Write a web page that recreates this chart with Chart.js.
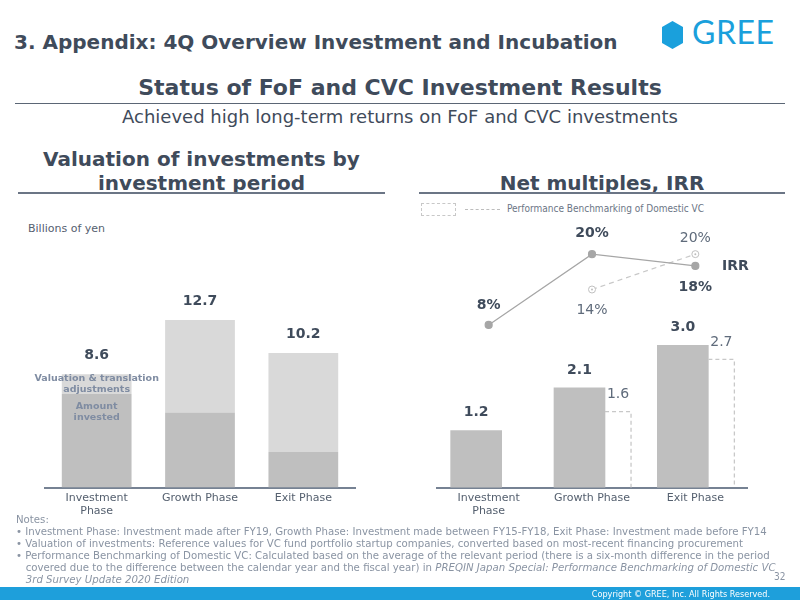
<!DOCTYPE html>
<html><head><meta charset="utf-8">
<script src="https://cdn.jsdelivr.net/npm/chart.js@4.4.0/dist/chart.umd.min.js"></script>
<style>
body{margin:0;width:800px;height:600px;position:relative;overflow:hidden;background:#fff;font-family:"DejaVu Sans",sans-serif;color:#3f4b5b}
.a{position:absolute;white-space:nowrap}
#hdr{left:14px;top:30px;font:bold 20px/24px "DejaVu Sans";color:#3f4b5b}
#title{left:0;width:800px;text-align:center;top:76px;font:bold 22px/24px "DejaVu Sans";color:#3f4b5b}
#rule{left:15px;top:103px;width:770px;height:1px;background:#5b6675}
#sub{left:0;width:800px;text-align:center;top:106px;font:18px/22px "DejaVu Sans";color:#3f4b5b}
#lt{left:18px;width:367px;text-align:center;top:147px;font:bold 20px/24px "DejaVu Sans";color:#3f4b5b}
#rt{left:419px;width:366px;text-align:center;top:171px;font:bold 20px/24px "DejaVu Sans";color:#3f4b5b}
.ul{height:2px;background:#6b7585;top:192px}
#units{left:28px;top:222px;font:11px/14px "DejaVu Sans";color:#55606f}
#lgbox{left:421px;top:203px;width:33px;height:11px;border:1px dashed #c8c8c8}
#lgline{left:465px;top:209px;width:35px;height:0;border-top:1px dashed #bdbdbd}
#lgtxt{left:507px;top:203px;font:10px/12px "DejaVu Sans Condensed";color:#6b7585}
#notes{left:16px;top:514px;font:10.2px/12px "DejaVu Sans";color:#8a94a3}
#notes div{white-space:nowrap}
#pg{left:774px;top:571px;font:10px/12px "DejaVu Sans Condensed";color:#8a94a3}
#foot{left:0;top:587px;width:800px;height:13px;background:#1e9fdb}
#copy{right:30px;top:588px;font:9px/12px "DejaVu Sans Condensed";color:#fff}
#logo{left:660px;top:18px}
#gree{left:692px;top:14px;font:32px/36px Lato,"Open Sans",sans-serif;color:#1aa0dc;letter-spacing:0.5px}
</style></head><body>
<div class="a" id="hdr">3. Appendix: 4Q Overview Investment and Incubation</div>
<svg class="a" id="logo" width="30" height="34"><polygon points="12.5,3 23,9 23,25 12.5,31 2,25 2,9" fill="#1aa0dc"/></svg>
<div class="a" id="gree">GREE</div>
<div class="a" id="title">Status of FoF and CVC Investment Results</div>
<div class="a" id="rule"></div>
<div class="a" id="sub">Achieved high long-term returns on FoF and CVC investments</div>
<div class="a" id="lt">Valuation of investments by<br>investment period</div>
<div class="a" id="rt">Net multiples, IRR</div>
<div class="a ul" style="left:18px;width:367px"></div>
<div class="a ul" style="left:419px;width:366px"></div>
<div class="a" id="units">Billions of yen</div>
<div class="a" id="lgbox"></div>
<div class="a" id="lgline"></div>
<div class="a" id="lgtxt">Performance Benchmarking of Domestic VC</div>
<canvas class="a" id="c1" width="400" height="322" style="left:0;top:200px"></canvas>
<canvas class="a" id="c2" width="380" height="322" style="left:420px;top:200px"></canvas>
<div class="a" id="notes">
<div>Notes:</div>
<div>• Investment Phase: Investment made after FY19, Growth Phase: Investment made between FY15-FY18, Exit Phase: Investment made before FY14</div>
<div>• Valuation of investments: Reference values for VC fund portfolio startup companies, converted based on most-recent financing procurement</div>
<div>• Performance Benchmarking of Domestic VC: Calculated based on the average of the relevant period (there is a six-month difference in the period</div>
<div>&nbsp;&nbsp;&nbsp;covered due to the difference between the calendar year and the fiscal year) in <i>PREQIN Japan Special: Performance Benchmarking of Domestic VC</i></div>
<div>&nbsp;&nbsp;&nbsp;<i>3rd Survey Update 2020 Edition</i></div>
</div>
<div class="a" id="pg">32</div>
<div class="a" id="foot"></div>
<div class="a" id="copy">Copyright © GREE, Inc. All Rights Reserved.</div>
<script>
// ---- data ----
const categories = [['Investment', 'Phase'], 'Growth Phase', 'Exit Phase'];
const amountInvested = [7.1, 5.7, 2.7];
const valuationAdjustments = [1.5, 7.0, 7.5];
const valuationTotals = [8.6, 12.7, 10.2];
const netMultiples = [1.2, 2.1, 3.0];
const benchmarkMultiples = [null, 1.6, 2.7];
const irr = [8, 20, 18];
const benchmarkIrr = [null, 14, 20];

Chart.defaults.font.family = '"DejaVu Sans"';
Chart.defaults.animation = false;
const DARK = '#3f4b5b', GREY_TXT = '#5f6b7b';
const tickFont = {size: 11};
const axisBorder = {display: true, color: '#768293', width: 2};

// ---- left chart ----
const leftLabels = {
  id: 'leftLabels',
  afterDatasetsDraw(chart) {
    const ctx = chart.ctx;
    const top = chart.getDatasetMeta(1).data, bot = chart.getDatasetMeta(0).data;
    ctx.save();
    ctx.textAlign = 'center'; ctx.textBaseline = 'middle';
    ctx.font = 'bold 14px "DejaVu Sans"'; ctx.fillStyle = DARK;
    top.forEach((el, i) => ctx.fillText(valuationTotals[i].toFixed(1), el.x, el.y - 19));
    ctx.font = 'bold 9.5px "DejaVu Sans"'; ctx.fillStyle = '#7f8ca2';
    const t = top[0], mid = (t.y + t.base) / 2;
    ctx.fillText('Valuation & translation', t.x, mid - 6);
    ctx.fillText('adjustments', t.x, mid + 5);
    const b = bot[0];
    ctx.fillText('Amount', b.x, b.y + 13);
    ctx.fillText('invested', b.x, b.y + 24);
    ctx.restore();
  }
};
new Chart(document.getElementById('c1'), {
  type: 'bar',
  data: {
    labels: categories,
    datasets: [
      {label: 'Amount invested', data: amountInvested, backgroundColor: '#bfbfbf'},
      {label: 'Valuation & translation adjustments', data: valuationAdjustments, backgroundColor: '#d9d9d9'}
    ]
  },
  options: {
    responsive: false, devicePixelRatio: 1,
    layout: {padding: {left: 45, right: 45, top: 0, bottom: 0}},
    categoryPercentage: 1, barPercentage: 0.675,
    plugins: {legend: {display: false}, tooltip: {enabled: false}},
    scales: {
      x: {stacked: true, grid: {display: false, drawTicks: false}, border: axisBorder,
          ticks: {font: tickFont, color: '#55606f', padding: 4, maxRotation: 0, autoSkip: false}},
      y: {stacked: true, display: false, min: 0, max: 21.8}
    }
  },
  plugins: [leftLabels]
});

// ---- right chart ----
const rightLabels = {
  id: 'rightLabels',
  afterDatasetsDraw(chart) {
    const ctx = chart.ctx;
    const act = chart.getDatasetMeta(0).data, ben = chart.getDatasetMeta(1).data;
    const lineA = chart.getDatasetMeta(2).data, lineB = chart.getDatasetMeta(3).data;
    ctx.save();
    // dashed benchmark bars (top + right edges)
    ctx.strokeStyle = '#c8c8c8'; ctx.lineWidth = 1.3; ctx.setLineDash([4, 3]);
    ben.forEach((el, i) => {
      if (benchmarkMultiples[i] == null) return;
      const l = el.x - el.width / 2, r = el.x + el.width / 2;
      ctx.beginPath(); ctx.moveTo(l, el.y); ctx.lineTo(r, el.y); ctx.lineTo(r, el.base); ctx.stroke();
    });
    ctx.setLineDash([]);
    ctx.textAlign = 'center'; ctx.textBaseline = 'middle';
    ctx.font = 'bold 14px "DejaVu Sans"'; ctx.fillStyle = DARK;
    act.forEach((el, i) => ctx.fillText(netMultiples[i].toFixed(1), el.x, el.y - 18));
    ctx.font = '14px "DejaVu Sans"'; ctx.fillStyle = GREY_TXT;
    ben.forEach((el, i) => { if (benchmarkMultiples[i] != null) ctx.fillText(benchmarkMultiples[i].toFixed(1), el.x, el.y - 17); });
    // IRR labels
    const irrPos = [-20, -21, 21];
    ctx.font = 'bold 14px "DejaVu Sans"'; ctx.fillStyle = DARK;
    lineA.forEach((p, i) => ctx.fillText(irr[i] + '%', p.x, p.y + irrPos[i]));
    const last = lineA[lineA.length - 1];
    ctx.fillText('IRR', last.x + 40, last.y);
    const benPos = [0, 21, -16];
    ctx.font = '14px "DejaVu Sans"'; ctx.fillStyle = GREY_TXT;
    lineB.forEach((p, i) => { if (benchmarkIrr[i] != null) ctx.fillText(benchmarkIrr[i] + '%', p.x, p.y + benPos[i]); });
    ctx.fillStyle = '#bdbdbd';
    lineB.forEach((p, i) => { if (benchmarkIrr[i] != null) { ctx.beginPath(); ctx.arc(p.x, p.y, 1, 0, Math.PI * 2); ctx.fill(); } });
    ctx.restore();
  }
};
new Chart(document.getElementById('c2'), {
  type: 'bar',
  data: {
    labels: categories,
    datasets: [
      {label: 'Net multiples', data: netMultiples.map((v, i) => ({x: i, y: v})), xAxisID: 'xa', yAxisID: 'y',
       backgroundColor: '#bfbfbf', barThickness: 51, grouped: false},
      {label: 'Performance Benchmarking of Domestic VC', data: benchmarkMultiples.map((v, i) => ({x: i, y: v})), xAxisID: 'xb', yAxisID: 'y',
       backgroundColor: 'rgba(0,0,0,0)', barThickness: 26, grouped: false},
      {type: 'line', label: 'IRR', data: irr, xAxisID: 'x', yAxisID: 'y2', borderColor: '#a6a6a6', borderWidth: 1.2,
       pointRadius: 3.5, pointBackgroundColor: '#a6a6a6', pointBorderColor: '#a6a6a6'},
      {type: 'line', label: 'Benchmark IRR', data: benchmarkIrr, xAxisID: 'x', yAxisID: 'y2', borderColor: '#c8c8c8', borderWidth: 1.2,
       borderDash: [5, 4], pointRadius: 3.5, pointBackgroundColor: '#ffffff', pointBorderColor: '#c0c0c0', pointBorderWidth: 1}
    ]
  },
  options: {
    responsive: false, devicePixelRatio: 1,
    layout: {padding: {left: 17, right: 53, top: 0, bottom: 0}},
    plugins: {legend: {display: false}, tooltip: {enabled: false}},
    scales: {
      x: {type: 'category', offset: true, grid: {display: false, drawTicks: false}, border: axisBorder,
          ticks: {font: tickFont, color: '#55606f', padding: 4, maxRotation: 0, autoSkip: false}},
      xa: {type: 'linear', display: false, offset: false, min: -0.379, max: 2.621},
      xb: {type: 'linear', display: false, offset: false, min: -0.752, max: 2.248},
      y: {display: false, min: 0, max: 5.95},
      y2: {display: false, min: -19.6, max: 28.3}
    }
  },
  plugins: [rightLabels]
});
</script>
</body></html>
